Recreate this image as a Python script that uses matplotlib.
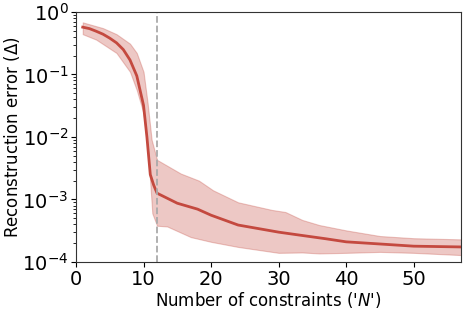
import numpy as np
import matplotlib
matplotlib.use("Agg")
import matplotlib.pyplot as plt

# values at selected N
n_mean = [1, 2, 3, 4, 5, 6, 7, 8, 9, 10, 10.5, 11, 11.5, 12, 15, 18, 20, 24, 30, 33,
          37, 40, 45, 50, 57]
err_mean = [0.57, 0.54, 0.49, 0.44, 0.38, 0.32, 0.25, 0.17, 0.095, 0.032, 0.01, 0.0025,
            0.0017, 0.00126, 0.00087, 0.0007, 0.00056, 0.00039, 0.0003, 0.00027,
            0.000235, 0.00021, 0.000194, 0.000179, 0.000174]

n_upper = [1, 4, 6, 8, 9, 10, 10.6, 11.2, 12, 15.5, 18.2, 20.3, 24, 29, 31, 33.5, 36,
           40, 45, 50, 57]
err_upper = [0.68, 0.55, 0.44, 0.31, 0.22, 0.11, 0.035, 0.009, 0.0043, 0.0026, 0.002,
             0.0014, 0.0009, 0.00068, 0.00063, 0.00047, 0.00039, 0.00032, 0.00026,
             0.00024, 0.00023]

n_lower = [1, 3, 6, 8, 9, 10, 10.7, 11.3, 12, 13.5, 17, 20, 24, 30, 33.5, 36, 40, 45,
           50, 57]
err_lower = [0.44, 0.36, 0.22, 0.11, 0.056, 0.024, 0.0055, 0.0006, 0.00038, 0.00037,
             0.00025, 0.00021, 0.000174, 0.00014, 0.000142, 0.000137, 0.00014,
             0.000145, 0.00014, 0.000129]

n_marker = 12

# put both band edges on one grid so fill_between can use them
grid = np.union1d(n_upper, n_lower)
up = 10 ** np.interp(grid, n_upper, np.log10(err_upper))
lo = 10 ** np.interp(grid, n_lower, np.log10(err_lower))

red = "#c4493f"

fig = plt.figure(figsize=(4.69, 3.13), dpi=100)
ax = fig.add_axes([0.162, 0.163, 0.821, 0.799])

ax.fill_between(grid, lo, up, color=red, alpha=0.3, linewidth=0.8)
ax.plot(n_mean, err_mean, color=red, linewidth=2)
ax.axvline(n_marker, color="#aaaaaa", linestyle="--", linewidth=1.3)

ax.set_yscale("log")
ax.set_ylim(1e-4, 1)
ax.set_xlim(0, 57)
ax.set_xticks([0, 10, 20, 30, 40, 50])
ax.tick_params(labelsize=14, pad=2)
ax.set_xlabel("Number of constraints ('$N$')", fontsize=12, labelpad=1)
ax.set_ylabel("Reconstruction error ($\\Delta$)", fontsize=12, labelpad=0)
for s in ax.spines.values():
    s.set_color("#333333")

fig.savefig("out.png", dpi=100)
